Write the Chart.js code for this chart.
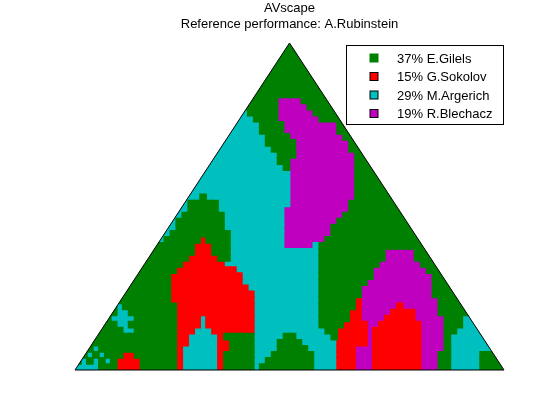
<!DOCTYPE html>
<html>
<head>
<meta charset="utf-8">
<script src="https://cdn.jsdelivr.net/npm/chart.js@4.4.1/dist/chart.umd.min.js"></script>
<style>
  html, body { margin: 0; padding: 0; background: #fff; }
  canvas { display: block; }
</style>
</head>
<body>
<canvas id="scape" width="560" height="420"></canvas>
<script>
// ---- data -------------------------------------------------------------
const titleLines = ['AVscape', 'Reference performance: A.Rubinstein'];
const performers = ['E.Gilels', 'G.Sokolov', 'M.Argerich', 'R.Blechacz'];
const shares = [37, 15, 29, 19];            // % of the scape won by each performer
const codes = ['G', 'R', 'C', 'M'];          // cell code used in scapeRows, same order
const gridCols = 72;

// Best-matching performer per scape cell, top row (whole piece) first.
// Each row is a list of runs: <code><first column>; a run lasts until the next one.
const scapeRows = [
  'G0',
  'G0',
  'G0',
  'G0',
  'G0',
  'G0',
  'G0',
  'G0',
  'G0',
  'G0 M34 G38',
  'G0 M34 G39',
  'C0 G29 M34 G40',
  'C0 G30 M34 G41',
  'C0 G31 M35 G44',
  'C0 G31 M35 G44',
  'C0 G32 M36 G45',
  'C0 G32 M37 G46',
  'C0 G33 M37 G46',
  'C0 G34 M37 G47',
  'C0 G34 M36 G47',
  'C0 G35 M36 G47',
  'C0 M36 G47',
  'C0 M36 G47',
  'C0 M36 G47',
  'C0 M36 G47',
  'C0 G21 C22 M36 G47',
  'C0 G19 C24 M36 G46',
  'C0 G19 C24 M35 G46',
  'C0 G18 C25 M35 G45',
  'C0 G17 C25 M35 G44',
  'C0 G17 C25 M35 G43',
  'C0 G16 C26 M35 G43',
  'C0 G15 R21 G22 C26 M35 G42',
  'G0 R20 G23 C26 M35 C40 G41',
  'G0 R20 G23 C26 G41 M52 G57',
  'G0 R19 G24 C26 G41 M52 G57',
  'G0 R18 C25 G41 M51 G58',
  'G0 R17 C27 G41 M50 G59',
  'G0 R16 C28 G41 M50 G60',
  'G0 R16 C28 G41 M49 G60',
  'G0 R16 C29 G41 M48 G60',
  'G0 R16 C30 G41 M48 G60',
  'G0 R16 C30 G41 R47 M48 G61',
  'G0 C7 G8 R17 C30 G41 R47 M48 R54 M55 G61',
  'G0 C7 G9 R17 C30 G41 R46 M48 R53 M57 G61',
  'G0 C6 G10 R17 C21 R22 C30 G41 R46 M48 R52 M57 G62 C65',
  'G0 C7 G9 R17 C21 R22 C30 G41 R45 M49 R51 M58 G62 C65',
  'G0 C8 G10 R17 C20 R23 C30 G42 R44 M49 R50 M58 G62 C64',
  'G0 R17 C19 R24 G25 C30 G35 C37 G43 R44 M49 R50 M58 G62 C63',
  'G0 R17 C19 R24 G26 C30 G34 C38 R44 M49 R50 M58 G62 C63',
  'G0 C3 G4 R17 C18 R24 G26 C30 G34 C39 R44 M47 R50 M58 G62 C63',
  'G0 C2 G3 C4 G5 R8 G10 R17 C18 R24 G25 C30 G33 C40 R44 M47 R50 M58 G61 C63 G68',
  'G0 C1 G2 C3 G4 C5 G6 R7 G11 R17 C18 R24 G25 C30 G32 C40 R44 M47 R50 M58 G61 C63 G68',
  'C0 G4 R7 G11 R17 C18 R24 G25 C30 G31 C40 R44 M47 R50 M58 G61 C63 G68'
];

// ---- style ------------------------------------------------------------
const palette = { G: '#008000', R: '#ff0000', C: '#00bfbf', M: '#bf00bf' };
const markerEdge = { G: '#008000', R: '#000000', C: '#000000', M: '#000000' };
const FONT = '13px "Liberation Sans", Arial, Helvetica, sans-serif';

// ---- cells ------------------------------------------------------------
const nRows = scapeRows.length;

function cellsOf(code) {
  const pts = [];
  scapeRows.forEach((row, r) => {
    const runs = row.split(' ').map(t => ({ k: t[0], s: parseInt(t.slice(1), 10) }));
    // the scape widens by one step per row; skip cells that lie wholly outside it
    const half = (r + 1) * (gridCols / 2) / nRows;
    runs.forEach((run, i) => {
      if (run.k !== code) return;
      const end = i + 1 < runs.length ? runs[i + 1].s : gridCols;
      for (let c = run.s; c < end; c++) {
        if (c + 1 <= gridCols / 2 - half || c >= gridCols / 2 + half) continue;
        pts.push({ x: c + 0.5, y: r + 0.5 });
      }
    });
  });
  return pts;
}

// square point big enough to tile one cell (overlap hides anti-aliased seams)
function cellRadius(ctx) {
  const a = ctx.chart.chartArea;
  if (!a) return 3;
  const side = Math.max((a.right - a.left) / gridCols, (a.bottom - a.top) / nRows) + 1.6;
  return side / (2 * Math.SQRT1_2);
}

function trianglePath(chart) {
  const { ctx, scales: { x, y } } = chart;
  ctx.beginPath();
  ctx.moveTo(x.getPixelForValue(0), y.getPixelForValue(nRows));
  ctx.lineTo(x.getPixelForValue(gridCols / 2), y.getPixelForValue(0));
  ctx.lineTo(x.getPixelForValue(gridCols), y.getPixelForValue(nRows));
  ctx.closePath();
}

const scapeFrame = {
  id: 'scapeFrame',
  beforeDraw(chart) {
    const ctx = chart.ctx;
    ctx.save();
    ctx.fillStyle = '#ffffff';
    ctx.fillRect(0, 0, chart.width, chart.height);
    ctx.restore();
  },
  beforeDatasetsDraw(chart) {
    chart.ctx.save();
    trianglePath(chart);
    chart.ctx.clip();
  },
  afterDatasetsDraw(chart) {
    const ctx = chart.ctx;
    ctx.restore();
    ctx.save();
    trianglePath(chart);
    ctx.strokeStyle = '#000000';
    ctx.lineWidth = 1;
    ctx.stroke();
    ctx.restore();
  },
  afterDraw(chart) {
    const ctx = chart.ctx;
    const a = chart.chartArea;
    ctx.save();
    // title
    ctx.font = FONT;
    ctx.fillStyle = '#000000';
    ctx.textAlign = 'center';
    ctx.textBaseline = 'alphabetic';
    const cx = (a.left + a.right) / 2;
    ctx.fillText(titleLines[0], cx, 12);
    ctx.fillText(titleLines[1], cx, 28);

    // legend box in the upper right corner of the axes
    const bx = a.right - 157.5, by = a.top + 2.5, bw = 157, bh = 79;
    ctx.fillStyle = '#ffffff';
    ctx.fillRect(bx, by, bw, bh);
    ctx.strokeStyle = '#000000';
    ctx.lineWidth = 1;
    ctx.strokeRect(bx, by, bw, bh);

    ctx.textAlign = 'left';
    chart.data.datasets.forEach((ds, i) => {
      const rowY = by + 12.5 + i * 18.5;
      const k = codes[i];
      ctx.fillStyle = palette[k];
      ctx.fillRect(bx + 23.5, rowY - 4, 8, 8);
      ctx.strokeStyle = markerEdge[k];
      ctx.strokeRect(bx + 23.5, rowY - 4, 8, 8);
      ctx.fillStyle = '#000000';
      ctx.fillText(ds.label, bx + 50.5, rowY + 4.5);
    });
    ctx.restore();
  }
};

new Chart(document.getElementById('scape'), {
  type: 'scatter',
  data: {
    datasets: codes.map((k, i) => ({
      label: shares[i] + '% ' + performers[i],
      data: cellsOf(k),
      backgroundColor: palette[k],
      borderColor: palette[k],
      pointStyle: 'rect',
      pointRadius: cellRadius,
      pointHoverRadius: cellRadius,
      pointBorderWidth: 0
    }))
  },
  options: {
    responsive: false,
    animation: false,
    events: [],
    layout: { padding: { left: 75, right: 56, top: 43, bottom: 50 } },
    scales: {
      x: { type: 'linear', min: 0, max: gridCols, display: false },
      y: { type: 'linear', min: 0, max: nRows, reverse: true, display: false }
    },
    plugins: {
      legend: { display: false },
      title: { display: false },
      tooltip: { enabled: false }
    }
  },
  plugins: [scapeFrame]
});
</script>
</body>
</html>
